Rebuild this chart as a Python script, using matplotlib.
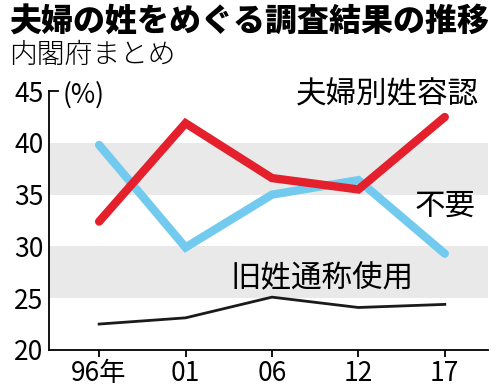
import matplotlib
matplotlib.use('Agg')
from matplotlib import pyplot as plt
import numpy as np

plt.rcParams['font.family'] = ['Noto Sans CJK JP', 'DejaVu Sans']

years = ['96年', '01', '06', '12', '17']
bessei = [32.4, 41.9, 36.6, 35.5, 42.5]     # 夫婦別姓容認
fuyou = [39.8, 29.9, 35.0, 36.4, 29.3]      # 不要
kyusei = [22.5, 23.1, 25.1, 24.1, 24.4]     # 旧姓通称使用
bands = [(25, 30), (35, 40)]

RED = '#e3202c'
BLUE = '#72cbee'

fig = plt.figure(figsize=(5, 3.91), dpi=100)
ax = fig.add_axes([0.098, 0.105, 0.878, 0.662])

x = np.arange(len(years))
for lo, hi in bands:
    ax.axhspan(lo, hi, color='#e9e9e9', lw=0, zorder=0)

ax.plot(x, fuyou, color=BLUE, lw=6, solid_capstyle='round', solid_joinstyle='miter', zorder=3)
ax.plot(x, bessei, color=RED, lw=6, solid_capstyle='round', solid_joinstyle='miter', zorder=4)
ax.plot(x, kyusei, color='#1a1a1a', lw=2, zorder=3)

ax.set_xlim(-0.58, 4.5)
ax.set_ylim(20, 45)
ax.set_xticks(x)
ax.set_xticklabels(years)
ax.set_yticks([20, 25, 30, 35, 40, 45])

for s in ['top', 'right']:
    ax.spines[s].set_visible(False)
for s in ['left', 'bottom']:
    ax.spines[s].set_linewidth(1.3)
ax.axhline(45, xmin=0, xmax=0.02, color='black', lw=1.3, clip_on=False)

ax.tick_params(axis='y', length=0, pad=4, labelsize=19)
ax.tick_params(axis='x', length=5, width=1.3, pad=2, labelsize=19)

ax.text(-0.42, 44.6, '(%)', fontsize=19, ha='left', va='center')
ax.text(3.33, 44.6, '夫婦別姓容認', fontsize=22, ha='center', va='center')
ax.text(4.0, 33.9, '不要', fontsize=22, ha='center', va='center')
ax.text(2.58, 26.9, '旧姓通称使用', fontsize=22, ha='center', va='center', zorder=5)

fig.text(0.018, 1 - 22 / 391, '夫婦の姓をめぐる調査結果の推移', fontsize=23,
         fontweight='heavy', ha='left', va='center')
fig.text(0.018, 1 - 55 / 391, '内閣府まとめ', fontsize=20, fontweight='light',
         ha='left', va='center')

fig.savefig('out.png', dpi=100)
